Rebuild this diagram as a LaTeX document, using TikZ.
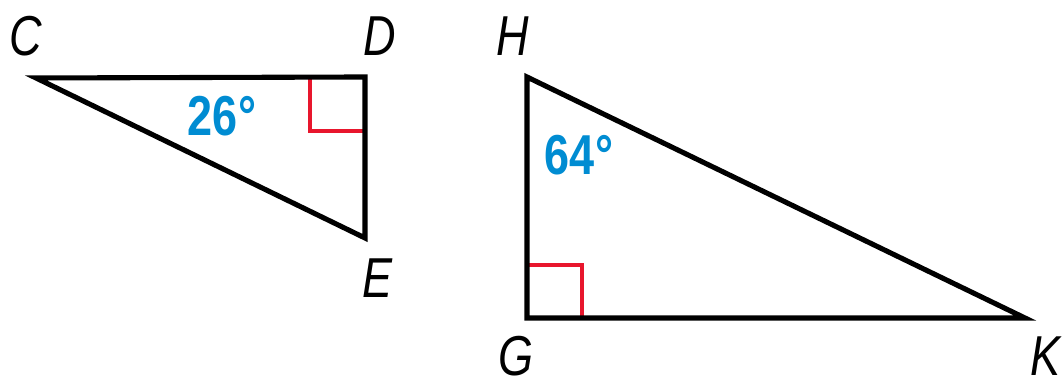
\documentclass[tikz,border=0pt]{standalone}
\usepackage{fontspec}
\usepackage{xcolor}
\setmainfont{Liberation Sans}
\newfontfamily\labelfont[FakeStretch=0.8]{Liberation Sans}
\usetikzlibrary{positioning}

\definecolor{angleblue}{RGB}{0,140,210}
\definecolor{markred}{RGB}{232,22,45}

\tikzset{
  side/.style={line width=1.45pt, line join=miter},
  rightmark/.style={draw=markred, line width=1.3pt},
  vlabel/.style={font=\labelfont\itshape\fontsize{16}{18}\selectfont, inner sep=0pt},
  anglabel/.style={font=\labelfont\bfseries\fontsize{16}{18}\selectfont, text=angleblue, inner sep=0pt}
}

\begin{document}
\begin{tikzpicture}[x=0.01cm,y=-0.01cm]
  \useasboundingbox (0,0) rectangle (1063,380);

  % triangle CDE
  \coordinate (C) at (36,78);
  \coordinate (D) at (365,77);
  \coordinate (E) at (365,238);
  \draw[rightmark] (365,131) -- (310,131) -- (310,77);
  \draw[side] (C) -- (D) -- (E) -- cycle;
  \node[vlabel] (labC) at (26,36) {C};
  \node[vlabel] (labD) at (380,36) {D};
  \node[vlabel] (labE) at (378,278) {E};
  \node[anglabel] (angC) at (222,116) {26°};

  % triangle GHK
  \coordinate (H) at (527,77);
  \coordinate (G) at (527,318);
  \coordinate (K) at (1025,318);
  \draw[rightmark] (527,265) -- (582,265) -- (582,318);
  \draw[side] (H) -- (G) -- (K) -- cycle;
  \node[vlabel] (labH) at (513,36) {H};
  \node[vlabel] (labG) at (516,356) {G};
  \node[vlabel] (labK) at (1046,356) {K};
  \node[anglabel] (angH) at (579,155) {64°};
\end{tikzpicture}
\end{document}
